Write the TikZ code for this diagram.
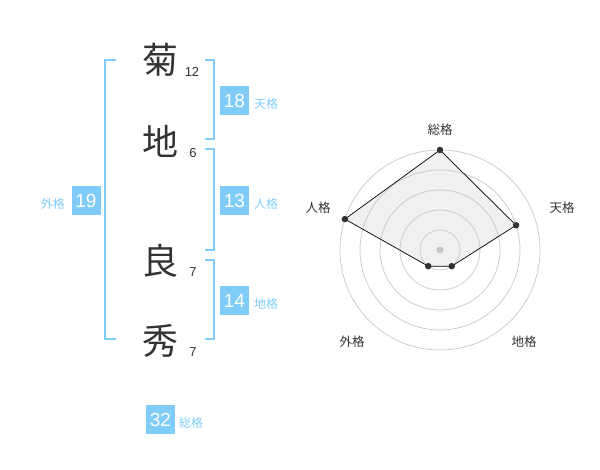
\documentclass[tikz,border=0pt]{standalone}
\usepackage{fontspec}
\usetikzlibrary{calc}
\setmainfont{Liberation Sans}
\newfontfamily\jp{Noto Sans CJK JP}
\definecolor{sky}{HTML}{80CCF8}
\definecolor{ink}{HTML}{333333}
\tikzset{
  kanji/.style={font=\jp\fontsize{36}{36}\selectfont, text=ink, inner sep=0},
  strokes/.style={font=\fontsize{13}{13}\selectfont, text=ink, inner sep=0},
  numbox/.style={fill=sky, text=white, minimum width=29pt, minimum height=29pt, inner sep=0, font=\fontsize{19}{19}\selectfont},
  kaku/.style={text=sky, font=\jp\fontsize{12}{12}\selectfont, inner sep=0},
  brk/.style={draw=sky, line width=2pt},
  ring/.style={draw=black!22, line width=0.7pt},
  axlabel/.style={text=ink, font=\jp\fontsize{12.5}{12.5}\selectfont, inner sep=0},
  vdot/.style={circle, fill=ink, inner sep=0, minimum size=6.5pt},
}
\begin{document}
\begin{tikzpicture}[x=1pt,y=-1pt]
\useasboundingbox (0,0) rectangle (600,470);
% name characters
\node[kanji] (k1) at (160,60) {菊};
\node[kanji] (k2) at (160,141) {地};
\node[kanji] (k3) at (160,261) {良};
\node[kanji] (k4) at (160,341) {秀};
\node[strokes] (s1) at (192,72) {12};
\node[strokes] (s2) at (193,153) {6};
\node[strokes] (s3) at (193,272.5) {7};
\node[strokes] (s4) at (193,352.5) {7};
% brackets
\coordinate (lt) at (116,60); \coordinate (lb) at (116,339);
\draw[brk] (lt) -- (105,60) -- (105,339) -- (lb);
\coordinate (t1) at (205,60); \coordinate (t2) at (205,139);
\draw[brk] (t1) -- (214,60) -- (214,139) -- (t2);
\coordinate (j1) at (205,149); \coordinate (j2) at (205,250);
\draw[brk] (j1) -- (214,149) -- (214,250) -- (j2);
\coordinate (c1) at (205,260); \coordinate (c2) at (205,339);
\draw[brk] (c1) -- (214,260) -- (214,339) -- (c2);
% boxes
\node[numbox] (b18) at (234.5,100.5) {18};
\node[kaku, anchor=west] (l18) at (254,103.5) {天格};
\node[numbox] (b13) at (234.5,200.5) {13};
\node[kaku, anchor=west] (l13) at (254,203.5) {人格};
\node[numbox] (b14) at (234.5,300.5) {14};
\node[kaku, anchor=west] (l14) at (254,303.5) {地格};
\node[numbox] (b19) at (86,200.5) {19};
\node[kaku, anchor=east] (l19) at (65,203.5) {外格};
\node[numbox] (b32) at (160.5,419.5) {32};
\node[kaku, anchor=west] (l32) at (179,422.5) {総格};
% radar
\coordinate (rc) at (440,250);
\coordinate (p1) at ($(rc)+(-90:100)$);
\coordinate (p2) at ($(rc)+(-18:80)$);
\coordinate (p3) at ($(rc)+(54:20)$);
\coordinate (p4) at ($(rc)+(126:20)$);
\coordinate (p5) at ($(rc)+(198:100)$);
\fill[black!6] (p1) -- (p2) -- (p3) -- (p4) -- (p5) -- cycle;
\foreach \r in {20,40,60,80,100} \draw[ring] (rc) circle (\r);
\fill[black!22] (rc) circle (3.5);
\draw[black, line width=0.7pt] (p1) -- (p2) -- (p3) -- (p4) -- (p5) -- cycle;
\foreach \p in {p1,p2,p3,p4,p5} \node[vdot] at (\p) {};
\node[axlabel] (a1) at (440,130) {総格};
\node[axlabel] (a2) at (562,208) {天格};
\node[axlabel] (a3) at (524,342) {地格};
\node[axlabel] (a4) at (352,342) {外格};
\node[axlabel] (a5) at (318,208) {人格};
\end{tikzpicture}
\end{document}
